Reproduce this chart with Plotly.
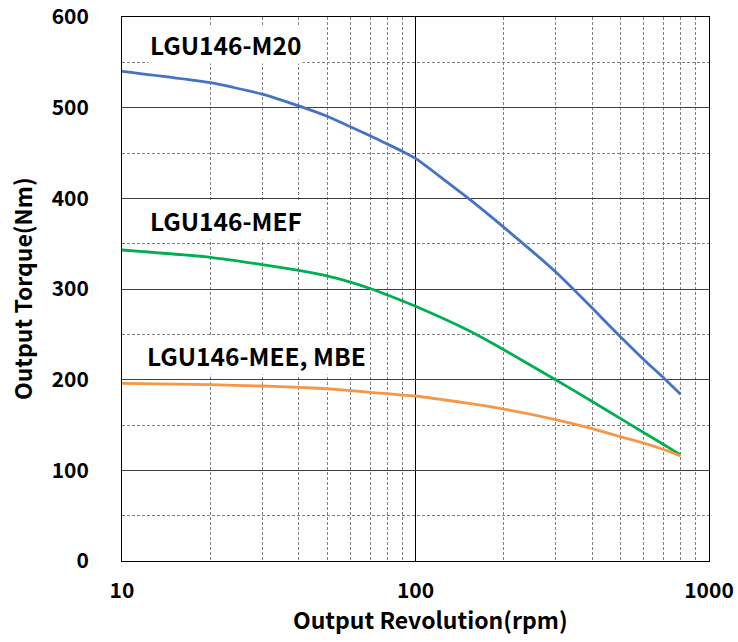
import math
import plotly.graph_objects as go

rpm = [10, 20, 30, 40, 50, 60, 70, 80, 90, 100, 150, 200, 300, 400, 500, 600, 700, 800]
m20 = [540, 527.5, 515, 502, 490.5, 479, 469, 460, 452, 444, 401, 368, 319, 279, 247, 222, 202, 184]
mef = [343, 335, 327, 320.5, 314.5, 307.5, 300.5, 293.5, 287, 281, 255, 233, 200, 176, 157, 141.5, 128.5, 117]
mee = [196, 194.5, 193, 191.5, 190, 188, 186, 184.5, 183, 182, 174, 167.5, 156, 146, 137, 130, 123, 116]

series_names = ["LGU146-M20", "LGU146-MEF", "LGU146-MEE, MBE"]
series_colors = ["#4472C4", "#00B050", "#F79646"]

x_ticks = [10, 100, 1000]
x_ticktext = ["10", "100", "1000"]
x_minor = [20, 30, 40, 50, 60, 70, 80, 90, 200, 300, 400, 500, 600, 700, 800, 900]
y_ticks = [0, 100, 200, 300, 400, 500, 600]

label_pos = [(12.3, 570), (12.3, 376), (12.0, 227)]

FONT = "Noto Sans CJK JP"

fig = go.Figure()
for name, ys, col in zip(series_names, [m20, mef, mee], series_colors):
    fig.add_trace(go.Scatter(x=rpm, y=ys, mode="lines", name=name,
                             line=dict(color=col, width=2.8, shape="spline", smoothing=0.5)))

for name, (lx, ly) in zip(series_names, label_pos):
    fig.add_annotation(x=math.log10(lx), y=ly, xref="x", yref="y", text="<b>" + name + "</b>",
                       showarrow=False, xanchor="left", yanchor="middle",
                       font=dict(family=FONT, size=24.5, color="#000"),
                       bgcolor="white")

fig.update_layout(
    width=738, height=642,
    margin=dict(l=122, r=29, t=17, b=81, autoexpand=False),
    paper_bgcolor="white", plot_bgcolor="white",
    showlegend=False,
    font=dict(family=FONT, color="#000"),
)

fig.update_xaxes(
    type="log", range=[1, 3], automargin=False,
    tickvals=x_ticks, ticktext=x_ticktext,
    tickfont=dict(family=FONT, size=21, color="#000", weight="bold"),
    ticks="", ticklabelstandoff=11,
    showgrid=True, gridcolor="#000", gridwidth=1,
    minor=dict(tickvals=x_minor, showgrid=True, gridcolor="#7f7f7f",
               griddash="3px,2px", gridwidth=1, ticks=""),
    showline=True, linecolor="#000", linewidth=1, mirror=True,
    zeroline=False,
)
fig.update_yaxes(
    range=[0, 600], tickvals=y_ticks, automargin=False,
    tickfont=dict(family=FONT, size=21, color="#000", weight="bold"),
    ticks="", ticklabelstandoff=28,
    showgrid=True, gridcolor="#404040", gridwidth=1.3,
    minor=dict(dtick=50, showgrid=True, gridcolor="#7f7f7f",
               griddash="3px,2px", gridwidth=1, ticks=""),
    showline=True, linecolor="#000", linewidth=1, mirror=True,
    zeroline=False,
)

fig.add_annotation(x=0.5, y=0, xref="paper", yref="paper", text="<b>Output Revolution(rpm)</b>",
                   showarrow=False, xanchor="center", yanchor="middle", xshift=15, yshift=-58,
                   font=dict(family=FONT, size=23, color="#000"))
fig.add_annotation(x=0, y=0.5, xref="paper", yref="paper", text="<b>Output Torque(Nm)</b>",
                   showarrow=False, xanchor="center", yanchor="middle", textangle=-90, xshift=-100,
                   font=dict(family=FONT, size=23, color="#000"))

fig.write_html("out.html", config={"displayModeBar": False},
               post_script="document.body.style.margin='0';")
